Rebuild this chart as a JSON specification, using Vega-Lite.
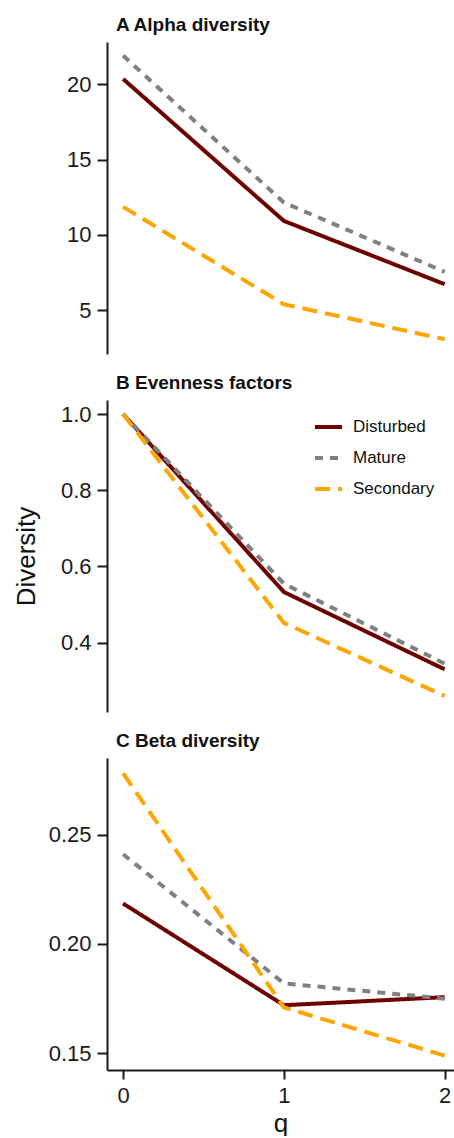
{
  "$schema": "https://vega.github.io/schema/vega-lite/v6.json",
  "padding": {"left": 13, "top": 16, "right": 0, "bottom": 0},
  "spacing": 20,
  "data": {"values": [
    {"panel": "A", "q": 0, "type": "Disturbed", "value": 20.35},
    {"panel": "A", "q": 1, "type": "Disturbed", "value": 10.93},
    {"panel": "A", "q": 2, "type": "Disturbed", "value": 6.73},
    {"panel": "A", "q": 0, "type": "Mature", "value": 21.9},
    {"panel": "A", "q": 1, "type": "Mature", "value": 12.15},
    {"panel": "A", "q": 2, "type": "Mature", "value": 7.55},
    {"panel": "A", "q": 0, "type": "Secondary", "value": 11.86},
    {"panel": "A", "q": 1, "type": "Secondary", "value": 5.4},
    {"panel": "A", "q": 2, "type": "Secondary", "value": 3.08},
    {"panel": "B", "q": 0, "type": "Disturbed", "value": 1.0},
    {"panel": "B", "q": 1, "type": "Disturbed", "value": 0.533},
    {"panel": "B", "q": 2, "type": "Disturbed", "value": 0.33},
    {"panel": "B", "q": 0, "type": "Mature", "value": 1.0},
    {"panel": "B", "q": 1, "type": "Mature", "value": 0.555},
    {"panel": "B", "q": 2, "type": "Mature", "value": 0.345},
    {"panel": "B", "q": 0, "type": "Secondary", "value": 1.0},
    {"panel": "B", "q": 1, "type": "Secondary", "value": 0.452},
    {"panel": "B", "q": 2, "type": "Secondary", "value": 0.26},
    {"panel": "C", "q": 0, "type": "Disturbed", "value": 0.2185},
    {"panel": "C", "q": 1, "type": "Disturbed", "value": 0.172},
    {"panel": "C", "q": 2, "type": "Disturbed", "value": 0.1757},
    {"panel": "C", "q": 0, "type": "Mature", "value": 0.241},
    {"panel": "C", "q": 1, "type": "Mature", "value": 0.182},
    {"panel": "C", "q": 2, "type": "Mature", "value": 0.175},
    {"panel": "C", "q": 0, "type": "Secondary", "value": 0.278},
    {"panel": "C", "q": 1, "type": "Secondary", "value": 0.171},
    {"panel": "C", "q": 2, "type": "Secondary", "value": 0.149}
  ]},
  "resolve": {"legend": {"color": "independent", "strokeDash": "independent"}},
  "vconcat": [
    {
      "title": {"text": "A Alpha diversity", "anchor": "start", "frame": "group", "fontSize": 19, "fontWeight": "bold", "dx": 9, "offset": -8, "baseline": "alphabetic", "color": "#111"},
      "width": 347, "height": 312,
      "transform": [{"filter": "datum.panel === 'A'"}],
      "mark": {"type": "line", "strokeWidth": 4, "strokeCap": "butt", "clip": true},
      "encoding": {
        "x": {"field": "q", "type": "quantitative", "scale": {"domain": [-0.1, 2.058], "nice": false, "zero": false}, "axis": null},
        "y": {"field": "value", "type": "quantitative", "scale": {"domain": [2.1, 22.8], "nice": false, "zero": false}, "axis": {"values": [5, 10, 15, 20], "title": null}},
        "color": {"field": "type", "type": "nominal", "scale": {"domain": ["Disturbed", "Mature", "Secondary"], "range": ["#6E0000", "#808080", "#FFA500"]}, "legend": null},
        "strokeDash": {"field": "type", "type": "nominal", "scale": {"domain": ["Disturbed", "Mature", "Secondary"], "range": [[1, 0], [8, 7], [15, 8]]}, "legend": null}
      }
    },
    {
      "title": {"text": "B Evenness factors", "anchor": "start", "frame": "group", "fontSize": 19, "fontWeight": "bold", "dx": 9, "offset": -8, "baseline": "alphabetic", "color": "#111"},
      "width": 347, "height": 312,
      "transform": [{"filter": "datum.panel === 'B'"}],
      "mark": {"type": "line", "strokeWidth": 4, "strokeCap": "butt", "clip": true},
      "encoding": {
        "x": {"field": "q", "type": "quantitative", "scale": {"domain": [-0.1, 2.058], "nice": false, "zero": false}, "axis": null},
        "y": {"field": "value", "type": "quantitative", "scale": {"domain": [0.218, 1.037], "nice": false, "zero": false}, "axis": {"values": [0.4, 0.6, 0.8, 1.0], "format": ".1f", "title": "Diversity", "titleFontSize": 26, "titleFontWeight": "normal", "titleX": -81, "titleY": 156, "titleBaseline": "middle", "titleAngle": -90, "titleAlign": "center", "titleColor": "#111"}},
        "color": {"field": "type", "type": "nominal", "scale": {"domain": ["Disturbed", "Mature", "Secondary"], "range": ["#6E0000", "#808080", "#FFA500"]},
          "legend": {"orient": "none", "legendX": 206, "legendY": 11.5, "title": null, "symbolType": "stroke", "symbolSize": 729, "symbolStrokeWidth": 4, "labelFontSize": 17, "labelColor": "#111", "rowPadding": 7, "labelOffset": 9, "padding": 0}},
        "strokeDash": {"field": "type", "type": "nominal", "scale": {"domain": ["Disturbed", "Mature", "Secondary"], "range": [[1, 0], [8, 7], [15, 8]]},
          "legend": {"orient": "none", "legendX": 206, "legendY": 11.5, "title": null, "symbolType": "stroke", "symbolSize": 729, "symbolStrokeWidth": 4, "labelFontSize": 17, "labelColor": "#111", "rowPadding": 7, "labelOffset": 9, "padding": 0}}
      }
    },
    {
      "title": {"text": "C Beta diversity", "anchor": "start", "frame": "group", "fontSize": 19, "fontWeight": "bold", "dx": 9, "offset": -8, "baseline": "alphabetic", "color": "#111"},
      "width": 347, "height": 312,
      "transform": [{"filter": "datum.panel === 'C'"}],
      "mark": {"type": "line", "strokeWidth": 4, "strokeCap": "butt", "clip": true},
      "encoding": {
        "x": {"field": "q", "type": "quantitative", "scale": {"domain": [-0.1, 2.058], "nice": false, "zero": false}, "axis": {"values": [0, 1, 2], "format": "d", "title": "q", "titleFontSize": 26, "titleFontWeight": "normal", "titlePadding": 4, "titleColor": "#111", "tickSize": 9, "labelPadding": 6}},
        "y": {"field": "value", "type": "quantitative", "scale": {"domain": [0.1424, 0.285], "nice": false, "zero": false}, "axis": {"values": [0.15, 0.2, 0.25], "format": ".2f", "title": null}},
        "color": {"field": "type", "type": "nominal", "scale": {"domain": ["Disturbed", "Mature", "Secondary"], "range": ["#6E0000", "#808080", "#FFA500"]}, "legend": null},
        "strokeDash": {"field": "type", "type": "nominal", "scale": {"domain": ["Disturbed", "Mature", "Secondary"], "range": [[1, 0], [8, 7], [15, 8]]}, "legend": null}
      }
    }
  ],
  "config": {
    "font": "Liberation Sans",
    "view": {"stroke": null},
    "axis": {"grid": false, "domainColor": "#1a1a1a", "tickColor": "#1a1a1a", "domainWidth": 2, "tickWidth": 2, "labelFontSize": 22, "labelColor": "#1a1a1a", "tickSize": 10, "labelPadding": 6, "labelFlush": false, "labelOverlap": false}
  }
}
